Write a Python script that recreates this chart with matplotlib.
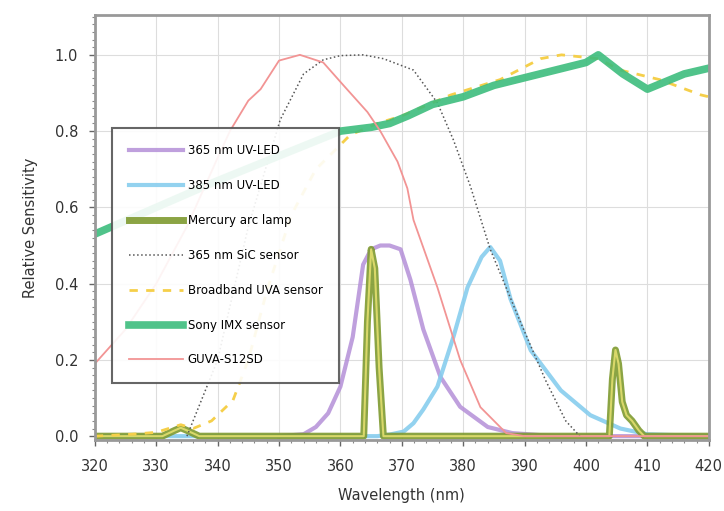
import matplotlib
matplotlib.use("Agg")
import matplotlib.pyplot as plt
from matplotlib.ticker import MultipleLocator

# --- data (wavelength nm, relative value) ---
led365_x = [350, 354, 356, 358, 360, 362, 363.7, 365, 366.5, 368, 369.8, 371.4, 373.5, 376.3, 379.5, 384, 388, 395, 420]
led365_y = [0.0, 0.005, 0.024, 0.06, 0.13, 0.26, 0.45, 0.49, 0.50, 0.50, 0.49, 0.41, 0.28, 0.155, 0.077, 0.024, 0.008, 0.0, 0.0]

led385_x = [320, 366, 368, 370.3, 371.9, 373.5, 375.8, 378.4, 380.7, 383, 384.4, 386, 387.7, 391, 395.9, 400.7, 405.6, 410, 420]
led385_y = [0.0, 0.0, 0.004, 0.012, 0.034, 0.07, 0.13, 0.26, 0.39, 0.47, 0.496, 0.46, 0.36, 0.225, 0.12, 0.055, 0.02, 0.005, 0.0]

mercury_x = [320, 331, 333, 334, 335, 337, 363.8, 364.4, 365.0, 365.6, 366.3, 367.0, 403.8, 404.3, 404.8, 405.3, 405.9, 406.6, 407.5, 408.6, 409.5, 420]
mercury_y = [0.0, 0.0, 0.015, 0.022, 0.015, 0.0, 0.0, 0.30, 0.49, 0.44, 0.18, 0.0, 0.0, 0.15, 0.226, 0.19, 0.09, 0.055, 0.04, 0.015, 0.0, 0.0]

sic_x = [335, 340, 345, 350.2, 354, 357.2, 360, 363.7, 367, 371.9, 375.8, 378.4, 381.2, 384.4, 389.3, 393.4, 396.7, 399]
sic_y = [0.0, 0.2, 0.55, 0.83, 0.95, 0.987, 0.998, 1.0, 0.99, 0.96, 0.874, 0.777, 0.654, 0.49, 0.30, 0.147, 0.04, 0.0]

uva_x = [320, 326, 330, 334, 336, 339, 342.5, 345, 348, 352, 356, 361.6, 366, 370, 378, 386, 392.6, 396, 402, 405.6, 412, 418.7, 420]
uva_y = [0.0, 0.005, 0.01, 0.03, 0.02, 0.04, 0.094, 0.2, 0.38, 0.58, 0.7, 0.79, 0.82, 0.84, 0.895, 0.935, 0.99, 1.0, 0.99, 0.96, 0.935, 0.895, 0.89]

bmp_x = [320, 330, 340, 350, 360, 365, 368, 371, 375, 380, 385, 390, 395, 400, 402, 406, 410, 413, 416, 420]
bmp_y = [0.53, 0.6, 0.67, 0.735, 0.80, 0.81, 0.82, 0.84, 0.87, 0.89, 0.92, 0.94, 0.96, 0.98, 1.0, 0.95, 0.91, 0.93, 0.95, 0.965]

guva_x = [320, 325, 330, 335, 340, 342, 345, 347, 350, 353.4, 357.2, 360.5, 364.4, 366.5, 369.3, 370.9, 371.9, 375.8, 379.5, 382.8, 387, 390, 420]
guva_y = [0.19, 0.28, 0.4, 0.55, 0.73, 0.8, 0.88, 0.91, 0.985, 1.0, 0.98, 0.92, 0.85, 0.80, 0.72, 0.65, 0.567, 0.39, 0.20, 0.076, 0.008, 0.0, 0.0]

labels = ["365 nm UV-LED", "385 nm UV-LED", "Mercury arc lamp", "365 nm SiC sensor",
          "Broadband UVA sensor", "Sony IMX sensor", "GUVA-S12SD"]

fig, ax = plt.subplots(figsize=(7.24, 5.11), dpi=100)
fig.subplots_adjust(left=0.131, right=0.979, top=0.971, bottom=0.139)

ax.plot(led365_x, led365_y, color="#b48fd8", lw=3, alpha=0.85, label=labels[0])
ax.plot(led385_x, led385_y, color="#87cdee", lw=3, alpha=0.9, label=labels[1])
ax.plot(mercury_x, mercury_y, color="#7f9a30", lw=5, alpha=0.9, label=labels[2])
ax.plot(mercury_x, mercury_y, color="#d9d86a", lw=1.5)
ax.plot(sic_x, sic_y, color="#555555", lw=1.1, ls=":", label=labels[3])
ax.plot(uva_x, uva_y, color="#f5cf4a", lw=2, ls=(0, (3, 3)), label=labels[4])
ax.plot(bmp_x, bmp_y, color="#3dbd7d", lw=5.5, alpha=0.9, label=labels[5])
ax.plot(guva_x, guva_y, color="#f29494", lw=1.3, label=labels[6])

ax.set_xlim(320, 420)
ax.set_ylim(-0.01, 1.105)
ax.xaxis.set_major_locator(MultipleLocator(10))
ax.yaxis.set_major_locator(MultipleLocator(0.2))
ax.xaxis.set_minor_locator(MultipleLocator(2))
ax.yaxis.set_minor_locator(MultipleLocator(0.02))
ax.tick_params(which="major", length=4, width=1, color="#666666", labelsize=10.5, labelcolor="#333333")
ax.tick_params(axis="x", which="major", pad=10)
ax.tick_params(axis="y", which="major", pad=8)
ax.tick_params(which="minor", length=2, width=0.8, color="#888888")
ax.grid(True, which="major", color="#dddddd", lw=0.8)
ax.set_axisbelow(True)
for s in ax.spines.values():
    s.set_color("#999999")
    s.set_linewidth(2)

ax.set_xlabel("Wavelength (nm)", fontsize=10.5, color="#333333", labelpad=10)
ax.set_ylabel("Relative Sensitivity", fontsize=10.5, color="#333333", labelpad=12)

leg = ax.legend(loc="upper left", bbox_to_anchor=(0.028, 0.734), fontsize=8.5,
                labelspacing=1.85, handlelength=4.6, handletextpad=0.4, borderpad=1.4,
                fancybox=False, framealpha=0.9, edgecolor="#555555", borderaxespad=0)
leg.get_frame().set_linewidth(1.5)

fig.savefig("out.png", dpi=100)
